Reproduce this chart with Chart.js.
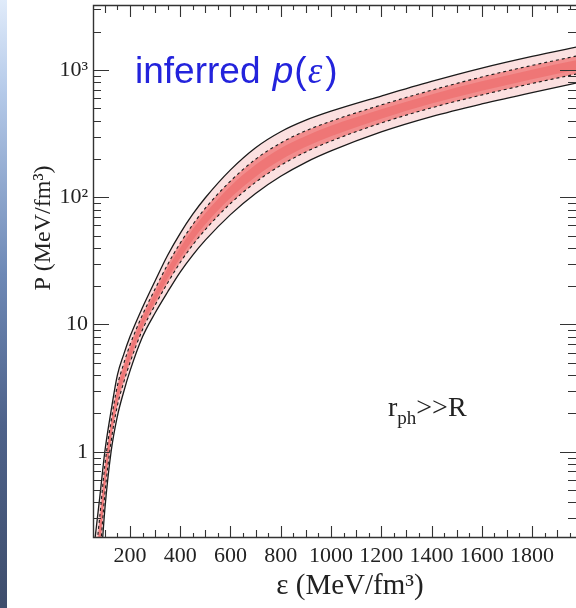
<!DOCTYPE html>
<html>
<head>
<meta charset="utf-8">
<script src="https://cdn.jsdelivr.net/npm/chart.js@4.4.1/dist/chart.umd.min.js"></script>
<style>
html, body { margin: 0; padding: 0; background: #fff; }
canvas { display: block; }
</style>
</head>
<body>
<canvas id="canvas" width="576" height="608"></canvas>
<script>
// energy density grid (MeV/fm^3)
var eps = [60, 80, 100, 125, 150, 175, 200, 250, 300, 350, 400, 450, 500, 600, 700, 800, 900, 1000, 1200, 1400, 1600, 1800, 2000];
// pressure bands (MeV/fm^3)
var upperSolid  = [0.2, 0.44, 1.0, 2.1, 4.0, 5.8, 8.0, 13.6, 22, 35, 52, 73.5, 99, 164, 245, 327, 403, 474, 624, 813, 1035, 1279, 1549];
var upperDashed = [0.13, 0.31, 0.78, 1.74, 3.3, 4.9, 6.9, 11.9, 19.0, 29.6, 43.6, 61, 82, 134, 199, 267, 333, 396, 531, 693, 881, 1086, 1315];
var upperCore   = [0.105, 0.255, 0.68, 1.6, 3.03, 4.52, 6.35, 11.2, 17.7, 27.4, 40.1, 56, 74.7, 122, 180, 243, 303, 364, 491, 643, 815, 1005, 1219];
var lowerCore   = [0.066, 0.173, 0.52, 1.32, 2.5, 3.79, 5.41, 9.7, 15.2, 23.0, 33.3, 46.1, 61.2, 98.4, 145, 196, 249, 301, 414, 545, 687, 847, 1028];
var lowerDashed = [0.053, 0.15, 0.46, 1.2, 2.3, 3.5, 5.0, 9.1, 14.2, 21.2, 30.7, 42.2, 55.7, 89.3, 131, 178, 227, 276, 383, 504, 636, 783, 951];
var lowerSolid  = [0.034, 0.1, 0.35, 1.0, 1.9, 2.95, 4.3, 8.0, 12.3, 18.0, 25.8, 35.1, 46, 73, 107, 146, 188, 231, 326, 430, 541, 665, 807];

var xTicks = [200, 400, 600, 800, 1000, 1200, 1400, 1600, 1800];
var yTicks = [1, 10, 100, 1000];
var yTickLabels = ['1', '10', '10\u00b2', '10\u00b3'];

function pts(arr) {
    return eps.map(function (e, i) { return { x: e, y: arr[i] }; });
}

var serif = '"Liberation Serif", "Times New Roman", serif';

var frame = {
    id: 'frame',
    beforeDraw: function (chart) {
        var ctx = chart.ctx;
        ctx.save();
        ctx.fillStyle = '#fff';
        ctx.fillRect(0, 0, chart.width, chart.height);
        var g = ctx.createLinearGradient(0, 0, 0, chart.height);
        g.addColorStop(0, '#e0ebfa');
        g.addColorStop(0.15, '#b5cae9');
        g.addColorStop(0.45, '#6e89b6');
        g.addColorStop(0.7, '#4e628a');
        g.addColorStop(1, '#3e4d6c');
        ctx.fillStyle = g;
        ctx.fillRect(0, 0, 7, chart.height);
        ctx.restore();
    },
    afterDraw: function (chart) {
        var ctx = chart.ctx, a = chart.chartArea;
        var xs = chart.scales.x, ys = chart.scales.y;
        ctx.save();
        ctx.strokeStyle = '#333';
        ctx.lineWidth = 1.4;
        ctx.beginPath();
        ctx.moveTo(a.right, a.top + 0.5);
        ctx.lineTo(a.left + 0.5, a.top + 0.5);
        ctx.lineTo(a.left + 0.5, a.bottom - 0.5);
        ctx.lineTo(a.right, a.bottom - 0.5);
        ctx.stroke();

        // inward ticks, x
        ctx.lineWidth = 1.1;
        ctx.beginPath();
        for (var v = 100; v < xs.max; v += 50) {
            var len = v % 200 === 0 ? 12 : (v % 100 === 0 ? 8 : 5);
            var px = Math.round(xs.getPixelForValue(v)) + 0.5;
            ctx.moveTo(px, a.bottom); ctx.lineTo(px, a.bottom - len);
            ctx.moveTo(px, a.top); ctx.lineTo(px, a.top + len);
        }
        // inward ticks, y (log)
        for (var d = 0.1; d <= 1000; d *= 10) {
            for (var m = 1; m <= 9; m++) {
                var val = d * m;
                if (val < ys.min || val > ys.max) continue;
                var l2 = m === 1 ? 16 : 8;
                var py = Math.round(ys.getPixelForValue(val)) + 0.5;
                ctx.moveTo(a.left, py); ctx.lineTo(a.left + l2, py);
                ctx.moveTo(a.right, py); ctx.lineTo(a.right - l2, py);
            }
        }
        ctx.stroke();

        // axis titles
        ctx.fillStyle = '#222';
        ctx.font = '29px ' + serif;
        ctx.textAlign = 'center';
        ctx.textBaseline = 'alphabetic';
        ctx.fillText('\u03b5 (MeV/fm\u00b3)', 350, 594);

        ctx.save();
        ctx.translate(50, 228);
        ctx.rotate(-Math.PI / 2);
        ctx.font = '24px ' + serif;
        ctx.fillText('P (MeV/fm\u00b3)', 0, 0);
        ctx.restore();

        // annotation texts
        ctx.textAlign = 'left';
        ctx.fillStyle = '#2323dc';
        var sans = '"Liberation Sans", Arial, sans-serif';
        var x0 = 135;
        ctx.font = '37px ' + sans;
        ctx.fillText('inferred ', x0, 83);
        x0 += ctx.measureText('inferred ').width + 2;
        ctx.font = 'italic 37px ' + sans;
        ctx.fillText('p', x0, 83);
        x0 += ctx.measureText('p').width + 1;
        ctx.font = '37px ' + sans;
        ctx.fillText('(', x0, 83);
        x0 += ctx.measureText('(').width + 1;
        ctx.font = 'italic 37px ' + serif;
        ctx.fillText('\u03b5', x0, 83);
        x0 += ctx.measureText('\u03b5').width + 3;
        ctx.font = '37px ' + sans;
        ctx.fillText(')', x0, 83);

        ctx.fillStyle = '#222';
        ctx.font = '28px ' + serif;
        ctx.fillText('r', 388, 416);
        var rw = ctx.measureText('r').width;
        ctx.font = '19px ' + serif;
        ctx.fillText('ph', 388 + rw, 424);
        var pw = ctx.measureText('ph').width;
        ctx.font = '28px ' + serif;
        ctx.fillText('>>R', 388 + rw + pw, 416);
        ctx.restore();
    }
};

var ctx = document.getElementById('canvas').getContext('2d');
var chart = new Chart(ctx, {
    type: 'line',
    data: {
        datasets: [{
            label: 'core',
            data: pts(upperCore),
            borderColor: 'rgba(0,0,0,0)',
            borderWidth: 0,
            backgroundColor: 'rgba(236, 90, 90, 0.45)',
            fill: { target: 1 }
        }, {
            label: 'core low',
            data: pts(lowerCore),
            borderColor: 'rgba(0,0,0,0)',
            borderWidth: 0,
            fill: false
        }, {
            label: 'upper 68%',
            data: pts(upperDashed),
            borderColor: '#1a1a1a',
            borderWidth: 1.1,
            borderDash: [3, 3],
            backgroundColor: 'rgba(239, 108, 108, 0.72)',
            fill: { target: 3 }
        }, {
            label: 'lower 68%',
            data: pts(lowerDashed),
            borderColor: '#1a1a1a',
            borderWidth: 1.1,
            borderDash: [3, 3],
            fill: false
        }, {
            label: 'upper',
            data: pts(upperSolid),
            borderColor: '#1a1a1a',
            borderWidth: 1.3,
            backgroundColor: 'rgba(244, 160, 160, 0.32)',
            fill: { target: 5 }
        }, {
            label: 'lower',
            data: pts(lowerSolid),
            borderColor: '#1a1a1a',
            borderWidth: 1.3,
            fill: false
        }]
    },
    options: {
        responsive: false,
        animation: false,
        devicePixelRatio: 1,
        layout: { padding: { top: 5, right: 0, bottom: 0, left: 0 } },
        elements: {
            point: { radius: 0 },
            line: { cubicInterpolationMode: 'monotone' }
        },
        plugins: {
            legend: { display: false },
            tooltip: { enabled: false },
            filler: { drawTime: 'beforeDatasetsDraw' }
        },
        scales: {
            x: {
                type: 'linear',
                min: 53,
                max: 1975,
                grid: { display: false, drawTicks: false, tickLength: 0 },
                border: { display: false },
                afterBuildTicks: function (scale) {
                    scale.ticks = xTicks.map(function (v) { return { value: v }; });
                },
                afterFit: function (scale) {
                    scale.height = 70;
                    scale.paddingLeft = 0;
                    scale.paddingRight = 0;
                },
                ticks: {
                    autoSkip: false,
                    maxRotation: 0,
                    padding: 5,
                    color: '#222',
                    font: { family: serif, size: 22 },
                    callback: function (v) { return String(v); }
                }
            },
            y: {
                type: 'logarithmic',
                min: 0.21,
                max: 3240,
                grid: { display: false, drawTicks: false, tickLength: 0 },
                border: { display: false },
                afterBuildTicks: function (scale) {
                    scale.ticks = yTicks.map(function (v) { return { value: v }; });
                },
                afterFit: function (scale) {
                    scale.width = 93;
                    scale.paddingTop = 0;
                    scale.paddingBottom = 0;
                },
                ticks: {
                    autoSkip: false,
                    padding: 5,
                    color: '#222',
                    font: { family: serif, size: 22 },
                    callback: function (v) {
                        var i = yTicks.indexOf(v);
                        return i >= 0 ? yTickLabels[i] : '';
                    }
                }
            }
        }
    },
    plugins: [frame]
});
</script>
</body>
</html>
